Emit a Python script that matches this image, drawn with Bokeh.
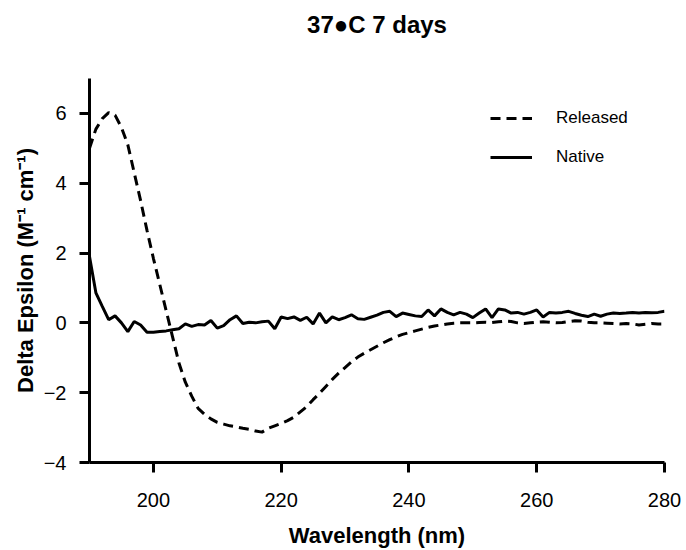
from bokeh.plotting import figure
from bokeh.models import Range1d, FixedTicker, Legend, LegendItem, Title
from bokeh.embed import file_html
from bokeh.resources import INLINE

wavelength = list(range(190, 281))

released = [
    5.0, 5.55, 5.85, 6.02, 5.95, 5.6, 5.1, 4.3, 3.5, 2.65,
    1.85, 1.1, 0.35, -0.4, -1.15, -1.7, -2.1, -2.45, -2.62, -2.75,
    -2.85, -2.9, -2.95, -2.98, -3.02, -3.05, -3.1, -3.13, -3.02, -2.95,
    -2.88, -2.8, -2.7, -2.55, -2.4, -2.2, -2.02, -1.82, -1.62, -1.44,
    -1.28, -1.12, -0.98, -0.87, -0.77, -0.67, -0.57, -0.48, -0.4, -0.33,
    -0.28, -0.23, -0.18, -0.13, -0.09, -0.06, -0.03, -0.01, 0.0, 0.0,
    0.0, 0.01, 0.02, 0.01, 0.03, 0.05, 0.04, 0.0, -0.02, 0.0,
    0.02, 0.03, 0.02, 0.0, 0.01, 0.04, 0.06, 0.05, 0.02, 0.0,
    0.0, -0.01, -0.02, -0.03, -0.02, -0.03, -0.06, -0.04, -0.02, -0.03,
    -0.03,
]

native = [
    1.9, 0.86, 0.47, 0.09, 0.2, 0.0, -0.25, 0.04, -0.06, -0.27,
    -0.27, -0.25, -0.23, -0.2, -0.17, -0.03, -0.1, -0.05, -0.06, 0.07,
    -0.15, -0.08, 0.09, 0.2, -0.02, 0.02, 0.0, 0.03, 0.05, -0.17,
    0.17, 0.12, 0.17, 0.07, 0.16, -0.03, 0.28, 0.0, 0.17, 0.09,
    0.15, 0.23, 0.12, 0.1, 0.16, 0.22, 0.3, 0.33, 0.18, 0.28,
    0.24, 0.2, 0.18, 0.37, 0.2, 0.4, 0.3, 0.23, 0.3, 0.25,
    0.15, 0.28, 0.4, 0.15, 0.4, 0.37, 0.28, 0.3, 0.25, 0.3,
    0.37, 0.17, 0.3, 0.28, 0.3, 0.33, 0.27, 0.22, 0.18, 0.25,
    0.19, 0.25, 0.28, 0.27, 0.28, 0.3, 0.28, 0.3, 0.29, 0.3,
    0.33,
]

x_ticks = [200, 220, 240, 260, 280]
y_ticks = [-4, -2, 0, 2, 4, 6]

FONT = "Liberation Sans"

p = figure(width=686, height=550, output_backend="svg", toolbar_location=None,
           x_range=Range1d(190, 280), y_range=Range1d(-4, 7),
           min_border_left=89, min_border_right=22, min_border_top=78, min_border_bottom=88)

# main title (outermost panel)
p.title = Title(text="37\u25cfC 7 days", align="center", text_font=FONT,
                text_font_size="24px", text_font_style="bold", text_color="black",
                standoff=0)
# invisible spacer panel between the title and the plot frame
p.add_layout(Title(text=" ", text_font=FONT, text_font_size="10px", standoff=28), "above")

p.xgrid.visible = False
p.ygrid.visible = False
p.outline_line_color = None

for ax in (p.xaxis[0], p.yaxis[0]):
    ax.axis_line_width = 3
    ax.axis_line_color = "black"
    ax.major_tick_line_width = 3
    ax.major_tick_line_color = "black"
    ax.major_tick_out = 10
    ax.major_tick_in = 0
    ax.minor_tick_line_color = None
    ax.major_label_text_font = FONT
    ax.major_label_text_font_size = "20px"
    ax.major_label_text_color = "black"
    ax.axis_label_text_font = FONT
    ax.axis_label_text_font_size = "22px"
    ax.axis_label_text_font_style = "bold"
    ax.axis_label_text_color = "black"

p.xaxis[0].ticker = FixedTicker(ticks=x_ticks)
p.yaxis[0].ticker = FixedTicker(ticks=y_ticks)
p.xaxis[0].major_label_standoff = 20
p.yaxis[0].major_label_standoff = 13
p.xaxis[0].axis_label = "Wavelength (nm)"
p.yaxis[0].axis_label = "Delta Epsilon (M\u207b\u00b9 cm\u207b\u00b9)"
p.xaxis[0].axis_label_standoff = 13
p.yaxis[0].axis_label_standoff = 3

r_rel = p.line(wavelength, released, line_color="black", line_width=3, line_dash="10 6")
r_nat = p.line(wavelength, native, line_color="black", line_width=3)

legend = Legend(items=[LegendItem(label="Released", renderers=[r_rel]),
                       LegendItem(label="Native", renderers=[r_nat])],
                location=(401, 295), orientation="vertical",
                background_fill_alpha=0, border_line_color=None,
                padding=0, margin=0, spacing=19,
                glyph_width=42, glyph_height=20, label_height=20,
                label_standoff=24, label_text_font=FONT,
                label_text_font_size="17px", label_text_color="black")
p.add_layout(legend)

open("out.html", "w").write(file_html(p, INLINE))
